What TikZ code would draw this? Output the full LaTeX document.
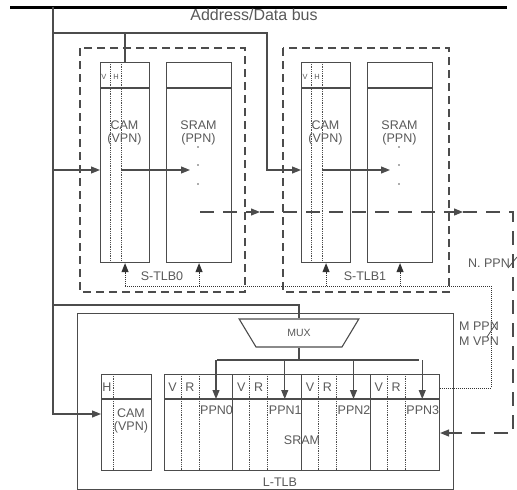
\documentclass[tikz,border=0pt]{standalone}
\usepackage{fontspec}
\setmainfont{Liberation Sans}
\usetikzlibrary{arrows.meta,shapes.geometric}
\definecolor{linegray}{gray}{0.3}
\definecolor{textgray}{gray}{0.35}

\begin{document}
\begin{tikzpicture}[
	x=1pt, y=-1pt,
	box/.style={ draw=linegray, line width=1.1pt, inner sep=0pt, anchor=north west },
	tlbframe/.style={ draw=linegray, line width=1.1pt, dash pattern=on 8pt off 5pt },
	wire/.style={ linegray, line width=1.1pt },
	col/.style={ linegray, line width=0.8pt, densely dotted },
	fbline/.style={ black!80, line width=1pt, dash pattern=on 1pt off 1pt },
	hitline/.style={ linegray, line width=1.2pt, dash pattern=on 14pt off 9pt },
	arr/.style={ -{Triangle[length=9pt,width=7pt]} },
	lab/.style={ text=textgray, inner sep=0pt, font=\fontsize{12.5}{13}\selectfont },
	small/.style={ text=textgray, inner sep=0pt, font=\fontsize{7.5}{7.5}\selectfont }
]
\useasboundingbox (0,0) rectangle (517,490);

\draw[line width=3pt] (10,7) -- (507,7);
\node at (254,15) (buslab) [lab, font=\fontsize{16}{16}\selectfont] {Address/Data bus};

\draw[tlbframe] (80,48) rectangle (245,292);
\draw[tlbframe] (283,48) rectangle (449,292);
\node at (100,62) (cam0) [box, minimum width=49pt, minimum height=200pt] {};
\node at (166,62) (sram0) [box, minimum width=65pt, minimum height=200pt] {};
\node at (301,62) (cam1) [box, minimum width=49pt, minimum height=200pt] {};
\node at (367,62) (sram1) [box, minimum width=65pt, minimum height=200pt] {};
\foreach \b in {cam0,sram0,cam1,sram1}
	\draw[wire] ([yshift=-26pt]\b.north west) -- ([yshift=-26pt]\b.north east);
\foreach \x in {110,121,311,322}
	\draw[col] (\x,62) -- (\x,262);
\node at (104,77) (v0) [small] {V};
\node at (116,77) (h0) [small] {H};
\node at (305,77) (v1) [small] {V};
\node at (317,77) (h1) [small] {H};
\node at (124.5,133) (cam0lab) [lab, align=center] {CAM\\(VPN)};
\node at (198.5,133) (sram0lab) [lab, align=center] {SRAM\\(PPN)};
\node at (325.5,133) (cam1lab) [lab, align=center] {CAM\\(VPN)};
\node at (399.5,133) (sram1lab) [lab, align=center] {SRAM\\(PPN)};
\foreach \x in {198,399} {
	\fill[textgray] (\x,147) circle (0.8pt);
	\fill[textgray] (\x,165) circle (0.8pt);
	\fill[textgray] (\x,184) circle (0.8pt);
}
\node at (162,276) (stlb0) [lab] {S-TLB0};
\node at (365,276) (stlb1) [lab] {S-TLB1};

\node at (77,313) (ltlb) [box, minimum width=376pt, minimum height=176pt] {};
\node at (101,374) (lcam) [box, minimum width=50pt, minimum height=96pt] {};
\node at (164,374) (lsram) [box, minimum width=275pt, minimum height=96pt] {};
\foreach \b in {lcam,lsram}
	\draw[wire] ([yshift=-25pt]\b.north west) -- ([yshift=-25pt]\b.north east);
\draw[col] (113,374) -- (113,470);
\node at (107,387) (lh) [lab] {H};
\node at (131,421) (lcamlab) [lab, align=center] {CAM\\(VPN)};
\foreach \g [evaluate=\g as \base using 164+68.75*\g] in {0,...,3} {
	\draw[col] ({\base+17},374) -- ({\base+17},470);
	\draw[col] ({\base+35},374) -- ({\base+35},470);
	\node at ({\base+8.5},387) [lab] {V};
	\node at ({\base+26},387) [lab] {R};
	\node at ({\base+36},410) [lab, anchor=west] {PPN\g};
	\draw[wire,arr] ({\base+52},360) -- ({\base+52},399);
}
\foreach \g [evaluate=\g as \base using 164+68.75*\g] in {1,2,3}
	\draw[wire] (\base,374) -- (\base,470);
\node at (302,440) (lsramlab) [lab] {SRAM};
\node at (280,482) (ltlblab) [lab] {L-TLB};

\node at (299,333) (mux) [trapezium, draw=linegray, line width=1.1pt, shape border rotate=180,
	trapezium stretches=true, minimum width=120pt, minimum height=28pt,
	trapezium left angle=58, trapezium right angle=58, inner sep=0pt,
	text=textgray, font=\fontsize{10.5}{10.5}\selectfont] {MUX};
\coordinate (dist) at (299,360);
\draw[wire] (mux) -- (dist);
\draw[wire] (217,360) -- (419,360);

% address paths
\coordinate (ltin) at (53,414);
\draw[wire,arr] (53,7) -- (ltin) -- (ltin -| lcam.west);
\coordinate (s0in) at (53,170);
\draw[wire,arr] (s0in) -- (s0in -| cam0.west);
\coordinate (s0top) at (125,33);
\coordinate (s1in) at (267,170);
\draw[wire,arr] (53,33) -- (53,33 -| s1in) -- (s1in) -- (s1in -| cam1.west);
\draw[wire] (s0top) -- (s0top |- cam0.north);
\coordinate (muxtap) at (53,305);
\draw[wire] (muxtap) -- (muxtap -| mux) -- (mux);
\coordinate (hit0) at (121,170);
\coordinate (hit1) at (322,170);
\draw[wire,arr] (hit0) -- ++(69,0);
\draw[wire,arr] (hit1) -- ++(68,0);

% hit / miss
\coordinate (ppn0) at (200,212);
\coordinate (ppnm) at (260,212);
\coordinate (ppn1) at (463,212);
\coordinate (ppnc) at (513,212);
\coordinate (ppnd) at (513,433);
\draw[hitline,arr] (ppn0) -- (ppnm);
\draw[hitline,arr] (ppnm) -- (ppn1);
\draw[hitline,arr] (ppn1) -- (ppnc) -- (ppnd) -- (ppnd -| lsram.east);
\draw[wire, line width=0.8pt] (508,268) -- (517,257);
\node at (510,263) (npn) [lab, anchor=east] {N. PPN};

\coordinate (fb0) at (125,286);
\coordinate (fb1) at (491,286);
\coordinate (fb2) at (491,388);
\draw[fbline] (fb0) -- (fb1) -- (fb2) -- (fb2 -| lsram.east);
\foreach \b in {cam0,sram0,cam1,sram1}
	\draw[fbline,arr] (\b.south |- fb0) -- (\b.south);
\draw[wire, line width=0.8pt] (487,337) -- (497,322);
\node at (459,334) (mvpn) [lab, anchor=west, align=left, font=\fontsize{12.5}{15}\selectfont] {M PPN\\M VPN};

\end{tikzpicture}
\end{document}
